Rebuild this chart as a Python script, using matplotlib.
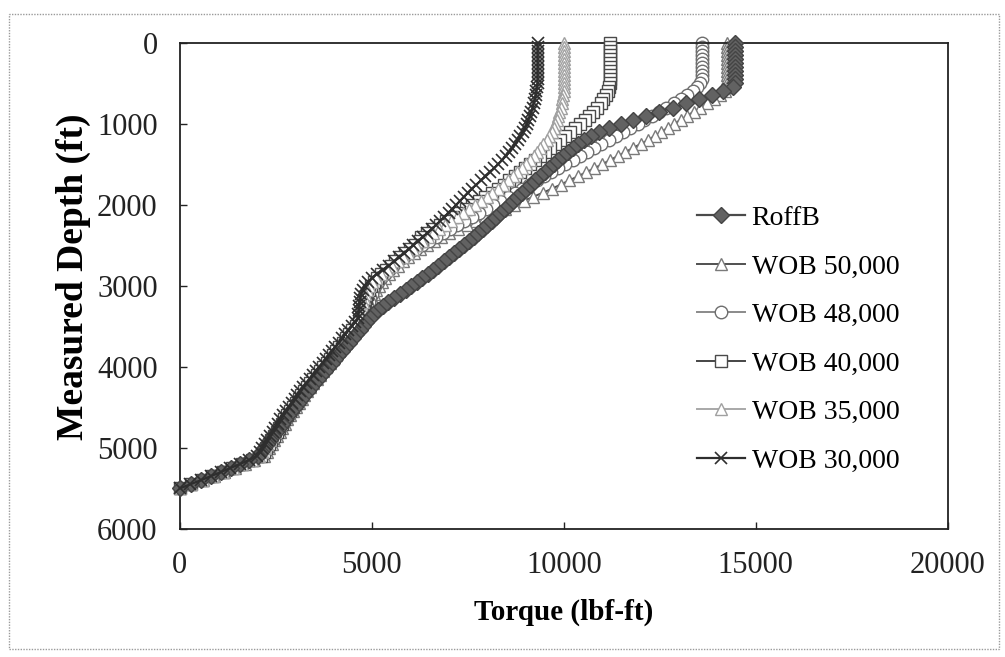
import numpy as np
import matplotlib
matplotlib.use('Agg')
import matplotlib.pyplot as plt
from matplotlib.patches import Rectangle

# measured depth (ft), one reading every 50 ft down to 5500 ft
depth = np.arange(0, 5501, 50)

# torque (lbf-ft) at each depth
roffb = ([14460] * 10 +
         [14460, 14400, 14150, 13850, 13520, 13180, 12840, 12490, 12140, 11800] +
         [11480, 11180, 10920, 10700, 10520, 10370, 10230, 10100, 9980, 9860] +
         [9740, 9620, 9500, 9380, 9260, 9140, 9020, 8900, 8790, 8680] +
         [8570, 8460, 8350, 8240, 8130, 8010, 7890, 7770, 7650, 7530] +
         [7400, 7270, 7140, 7010, 6870, 6730, 6590, 6450, 6310, 6170] +
         [6030, 5880, 5730, 5570, 5420, 5280, 5150, 5040, 4950, 4860] +
         [4770, 4680, 4590, 4500, 4400, 4310, 4220, 4130, 4040, 3950] +
         [3860, 3770, 3680, 3590, 3500, 3410, 3330, 3240, 3160, 3070] +
         [2990, 2900, 2820, 2740, 2660, 2580, 2500, 2420, 2340, 2260] +
         [2190, 2110, 2030, 1810, 1570, 1320, 1070, 810, 550, 280] +
         [0])

wob50 = ([14245] * 10 +
         [14245, 14245, 14200, 14060, 13900, 13730, 13560, 13390, 13220, 13050] +
         [12880, 12710, 12540, 12370, 12200, 12000, 11800, 11600, 11400, 11200] +
         [11000, 10790, 10580, 10360, 10140, 9920, 9700, 9460, 9210, 8960] +
         [8710, 8460, 8210, 7960, 7710, 7470, 7240, 7020, 6810, 6610] +
         [6430, 6260, 6100, 5950, 5810, 5680, 5560, 5450, 5350, 5260] +
         [5180, 5120, 5060, 5010, 4960, 4920, 4880, 4850, 4820, 4740] +
         [4660, 4570, 4490, 4400, 4320, 4230, 4150, 4070, 3980, 3900] +
         [3810, 3730, 3640, 3560, 3470, 3390, 3320, 3240, 3170, 3100] +
         [3020, 2950, 2870, 2800, 2730, 2660, 2600, 2530, 2460, 2390] +
         [2330, 2260, 2180, 1940, 1690, 1430, 1160, 880, 600, 300] +
         [0])

wob48 = ([13590] * 10 +
         [13560, 13480, 13360, 13220, 13050, 12860, 12670, 12480, 12290, 12100] +
         [11920, 11730, 11540, 11360, 11170, 10980, 10790, 10600, 10420, 10230] +
         [10040, 9850, 9660, 9480, 9290, 9100, 8910, 8730, 8540, 8350] +
         [8160, 7970, 7790, 7600, 7410, 7220, 7040, 6850, 6670, 6490] +
         [6310, 6140, 5980, 5830, 5690, 5560, 5440, 5330, 5240, 5160] +
         [5090, 5040, 5000, 4960, 4920, 4880, 4850, 4820, 4780, 4700] +
         [4620, 4530, 4450, 4360, 4280, 4190, 4110, 4030, 3940, 3860] +
         [3770, 3690, 3600, 3520, 3430, 3350, 3280, 3200, 3130, 3060] +
         [2980, 2910, 2830, 2760, 2690, 2620, 2560, 2490, 2420, 2350] +
         [2290, 2220, 2140, 1900, 1650, 1390, 1120, 850, 570, 290] +
         [0])

wob40 = ([11195] * 10 +
         [11195, 11180, 11150, 11100, 11030, 10960, 10870, 10770, 10660, 10540] +
         [10420, 10300, 10170, 10040, 9910, 9780, 9650, 9520, 9390, 9260] +
         [9130, 9000, 8860, 8720, 8580, 8430, 8280, 8120, 7960, 7790] +
         [7620, 7450, 7280, 7110, 6940, 6770, 6600, 6440, 6280, 6250] +
         [6120, 5990, 5860, 5730, 5610, 5490, 5370, 5250, 5140, 5050] +
         [4980, 4920, 4870, 4840, 4810, 4790, 4770, 4755, 4740, 4660] +
         [4580, 4490, 4410, 4320, 4240, 4150, 4070, 3990, 3900, 3820] +
         [3730, 3650, 3560, 3480, 3390, 3310, 3240, 3160, 3090, 3020] +
         [2940, 2870, 2790, 2720, 2650, 2580, 2520, 2450, 2380, 2310] +
         [2250, 2180, 2100, 1880, 1630, 1370, 1110, 840, 570, 290] +
         [0])

wob35 = ([10010] * 10 +
         [10010, 10010, 10000, 9985, 9965, 9940, 9915, 9885, 9855, 9820] +
         [9780, 9735, 9680, 9620, 9550, 9470, 9390, 9305, 9215, 9115] +
         [9010, 8900, 8785, 8665, 8540, 8410, 8275, 8135, 7990, 7840] +
         [7690, 7535, 7380, 7225, 7070, 6915, 6760, 6605, 6450, 6300] +
         [6150, 6080, 5950, 5810, 5670, 5530, 5390, 5250, 5120, 5010] +
         [4930, 4870, 4810, 4785, 4765, 4750, 4735, 4720, 4705, 4620] +
         [4540, 4450, 4370, 4280, 4200, 4110, 4030, 3950, 3860, 3780] +
         [3690, 3610, 3520, 3440, 3350, 3270, 3200, 3120, 3050, 2980] +
         [2900, 2830, 2750, 2680, 2610, 2540, 2480, 2410, 2340, 2270] +
         [2210, 2140, 2070, 1870, 1630, 1380, 1130, 870, 600, 300] +
         [0])

wob30 = ([9320] * 10 +
         [9315, 9300, 9285, 9265, 9240, 9215, 9185, 9155, 9120, 9080] +
         [9035, 8985, 8930, 8870, 8805, 8735, 8660, 8575, 8485, 8390] +
         [8290, 8185, 8075, 7960, 7845, 7725, 7605, 7500, 7400, 7300] +
         [7200, 7100, 7000, 6890, 6780, 6670, 6560, 6440, 6320, 6200] +
         [6080, 5960, 5840, 5710, 5580, 5440, 5290, 5140, 5010, 4900] +
         [4820, 4760, 4720, 4695, 4680, 4670, 4660, 4650, 4640, 4560] +
         [4480, 4390, 4310, 4220, 4140, 4050, 3970, 3890, 3800, 3720] +
         [3630, 3550, 3460, 3380, 3290, 3210, 3140, 3060, 2990, 2920] +
         [2840, 2770, 2690, 2620, 2550, 2480, 2420, 2350, 2280, 2210] +
         [2150, 2080, 2010, 1800, 1560, 1310, 1060, 800, 540, 270] +
         [0])

labels = ['RoffB', 'WOB 50,000', 'WOB 48,000', 'WOB 40,000', 'WOB 35,000', 'WOB 30,000']
x_ticks = [0, 5000, 10000, 15000, 20000]
y_ticks = [0, 1000, 2000, 3000, 4000, 5000, 6000]

plt.rcParams['font.family'] = 'Liberation Serif'

fig = plt.figure(figsize=(10.05, 6.57), dpi=100, facecolor='white')
ax = fig.add_axes([0.179, 0.195, 0.764, 0.740])

#marker / line styles roughly matching the greyscale scan
styles = {
    'RoffB':      dict(marker='D', color='#4a4a4a', mfc='#626262', mec='#444444', ms=8, lw=1.6, zorder=5),
    'WOB 50,000': dict(marker='^', color='#505050', mfc='white', mec='#7a7a7a', ms=9, lw=1.4, zorder=1),
    'WOB 48,000': dict(marker='o', color='#8a8a8a', mfc='white', mec='#6e6e6e', ms=9, lw=1.4, zorder=2),
    'WOB 40,000': dict(marker='s', color='#454545', mfc='white', mec='#4a4a4a', ms=8, lw=1.4, zorder=3),
    'WOB 35,000': dict(marker='^', color='#a8a8a8', mfc='white', mec='#a0a0a0', ms=9, lw=1.4, zorder=4),
    'WOB 30,000': dict(marker='x', color='#2e2e2e', mfc='#2e2e2e', mec='#2e2e2e', ms=8.5, mew=1.2, lw=1.6, zorder=6),
}

series = [roffb, wob50, wob48, wob40, wob35, wob30]
for vals, name in zip(series, labels):
    st = dict(styles[name])
    z = st.pop('zorder')
    ax.plot(vals, depth, label=name, zorder=z, clip_on=False, **st)

ax.set_xlim(0, 20000)
ax.set_ylim(6000, 0)
ax.set_xticks(x_ticks)
ax.set_yticks(y_ticks)
ax.tick_params(direction='in', length=5, width=1, labelsize=22, colors='#222222')
ax.tick_params(axis='x', pad=16)
ax.tick_params(axis='y', pad=16)
for sp in ax.spines.values():
    sp.set_linewidth(1.3)
    sp.set_color('#222222')

ax.set_xlabel('Torque (lbf-ft)', fontsize=21, fontweight='bold', va='center')
ax.set_ylabel('Measured Depth (ft)', fontsize=27, fontweight='bold', va='center')
ax.xaxis.set_label_coords(0.5, -0.171)
ax.yaxis.set_label_coords(-0.138, 0.518)

leg = ax.legend(loc='upper left', bbox_to_anchor=(0.674, 0.665), frameon=False,
                fontsize=20, labelspacing=0.83, handlelength=1.7, handletextpad=0.25,
                borderpad=0, borderaxespad=0)

# dotted frame around the whole picture, as in the scanned page
fig.patches.append(Rectangle((0.009, 0.012), 0.985, 0.967, transform=fig.transFigure,
                             fill=False, ec='#9a9a9a', lw=1, ls=(0, (1, 1))))

plt.savefig('out.png', dpi=100, facecolor='white')
